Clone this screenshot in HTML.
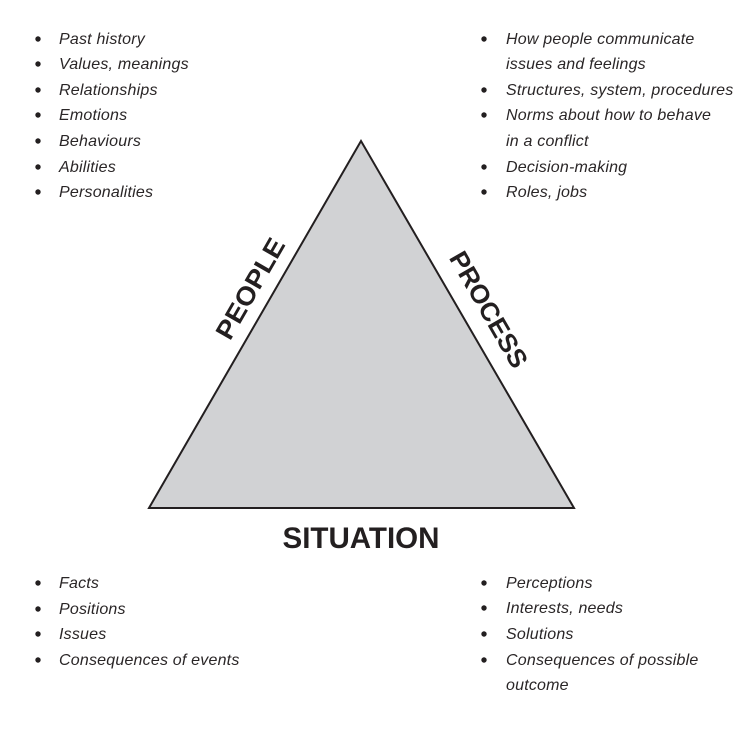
<!DOCTYPE html>
<html><head><meta charset="utf-8"><style>
html,body{margin:0;padding:0;background:#fff;}
svg{display:block;}
.t{font-family:"Liberation Sans",sans-serif;font-style:italic;font-size:16px;fill:#2a2627;letter-spacing:0.2px;}
.h{font-family:"Liberation Sans",sans-serif;font-weight:bold;fill:#231f20;}
</style></head><body>
<svg width="750" height="750" viewBox="0 0 750 750" xmlns="http://www.w3.org/2000/svg">
<polygon points="361,141 149,508 574,508" fill="#d1d2d4" stroke="#231f20" stroke-width="2"/>
<g fill="#231f20">
<circle cx="38" cy="39" r="2.7"/><circle cx="38" cy="64" r="2.7"/><circle cx="38" cy="90" r="2.7"/><circle cx="38" cy="115" r="2.7"/><circle cx="38" cy="141" r="2.7"/><circle cx="38" cy="167" r="2.7"/><circle cx="38" cy="192" r="2.7"/>
<circle cx="484" cy="39" r="2.7"/><circle cx="484" cy="90" r="2.7"/><circle cx="484" cy="115" r="2.7"/><circle cx="484" cy="167" r="2.7"/><circle cx="484" cy="192" r="2.7"/>
<circle cx="38" cy="583" r="2.7"/><circle cx="38" cy="609" r="2.7"/><circle cx="38" cy="634" r="2.7"/><circle cx="38" cy="660" r="2.7"/>
<circle cx="484" cy="583" r="2.7"/><circle cx="484" cy="608" r="2.7"/><circle cx="484" cy="634" r="2.7"/><circle cx="484" cy="660" r="2.7"/>
</g>
<g class="t">
<text x="59" y="44">Past history</text>
<text x="59" y="69">Values, meanings</text>
<text x="59" y="95">Relationships</text>
<text x="59" y="120">Emotions</text>
<text x="59" y="146">Behaviours</text>
<text x="59" y="172">Abilities</text>
<text x="59" y="197">Personalities</text>
<text x="506" y="44">How people communicate</text>
<text x="506" y="69">issues and feelings</text>
<text x="506" y="95">Structures, system, procedures</text>
<text x="506" y="120">Norms about how to behave</text>
<text x="506" y="146">in a conflict</text>
<text x="506" y="172">Decision-making</text>
<text x="506" y="197">Roles, jobs</text>
<text x="59" y="588">Facts</text>
<text x="59" y="614">Positions</text>
<text x="59" y="639">Issues</text>
<text x="59" y="665">Consequences of events</text>
<text x="506" y="588">Perceptions</text>
<text x="506" y="613">Interests, needs</text>
<text x="506" y="639">Solutions</text>
<text x="506" y="665">Consequences of possible</text>
<text x="506" y="690">outcome</text>
</g>
<text class="h" x="361" y="548" font-size="30" text-anchor="middle" textLength="157" lengthAdjust="spacingAndGlyphs">SITUATION</text>
<text class="h" font-size="26" text-anchor="middle" textLength="112" lengthAdjust="spacingAndGlyphs" transform="translate(258,293) rotate(-60)">PEOPLE</text>
<text class="h" font-size="26" text-anchor="middle" textLength="130" lengthAdjust="spacingAndGlyphs" transform="translate(481,314) rotate(60)">PROCESS</text>
</svg>
</body></html>
